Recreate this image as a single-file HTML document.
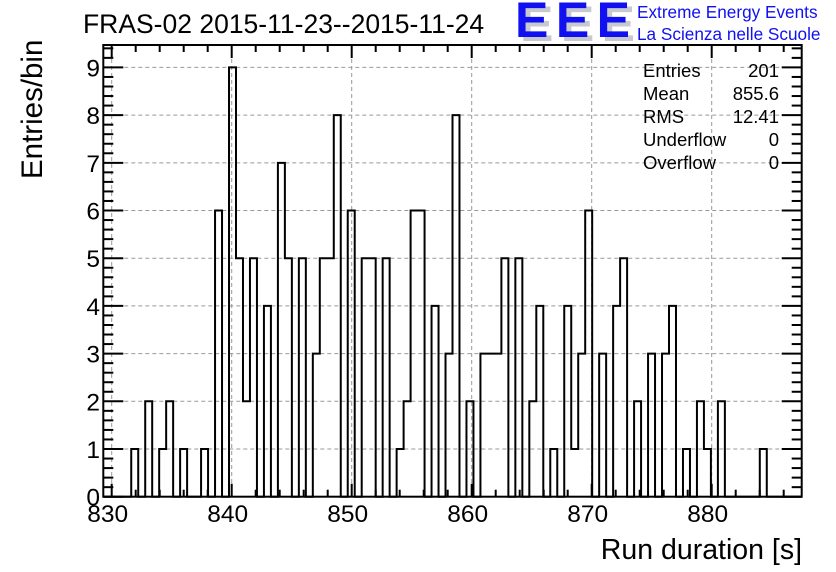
<!DOCTYPE html>
<html><head><meta charset="utf-8">
<style>
html,body{margin:0;padding:0;background:#fff;}
svg{display:block;font-family:"Liberation Sans",Arial,sans-serif;}
</style></head>
<body>
<svg id="chart" width="836" height="572" viewBox="0 0 836 572">
  <rect x="0" y="0" width="836" height="572" fill="#fff"/>
  <text x="83" y="33" font-size="26.5" fill="#000">FRAS-02 2015-11-23--2015-11-24</text>
  <g>
    <text x="520" y="41" font-size="50" font-weight="bold" fill="#c8c8d0" letter-spacing="-3" textLength="112">EEE</text>
    <text x="515" y="37" font-size="50" font-weight="bold" fill="#1010f0" letter-spacing="-3" textLength="112">EEE</text>
    <text x="637" y="18" font-size="17.2" fill="#1010f0">Extreme Energy Events</text>
    <text x="637" y="40" font-size="17.2" fill="#1010f0">La Scienza nelle Scuole</text>
  </g>
  <g id="grid"></g>
  <g id="ticks"></g>
  <path id="hist" fill="none" stroke="#000" stroke-width="2"/>
  <rect x="103.3" y="45" width="698.4" height="451.7" fill="none" stroke="#000" stroke-width="2"/>
  <g id="labels" font-size="24.5" fill="#000"></g>
  <text transform="translate(42,179) rotate(-90)" font-size="29.5" fill="#000">Entries/bin</text>
  <text x="802" y="559" font-size="28.5" text-anchor="end" fill="#000">Run duration [s]</text>
  <g font-size="18.5" fill="#000">
    <text x="643" y="77">Entries</text><text x="779" y="77" text-anchor="end">201</text>
    <text x="643" y="100">Mean</text><text x="779" y="100" text-anchor="end">855.6</text>
    <text x="643" y="123">RMS</text><text x="779" y="123" text-anchor="end">12.41</text>
    <text x="643" y="146">Underflow</text><text x="779" y="146" text-anchor="end">0</text>
    <text x="643" y="169">Overflow</text><text x="779" y="169" text-anchor="end">0</text>
  </g>
</svg>
<script>
const xMin = 829.3, xMax = 887.5, nBins = 100;
const binIndex = [4,6,8,9,11,14,16,18,19,20,21,23,25,26,28,30,31,32,33,35,37,38,40,42,43,44,45,47,49,50,52,54,55,56,57,59,61,62,64,66,67,68,69,71,73,74,76,78,80,81,83,85,86,88,94];
const binCount = [1,2,1,2,1,1,6,9,5,2,5,4,7,5,5,3,5,5,8,6,5,5,5,1,2,6,6,4,3,8,2,3,3,3,5,5,2,4,1,4,1,3,6,3,4,5,2,3,3,4,1,2,1,2,1];
const xTicks = [830,840,850,860,870,880];
const yTicks = [0,1,2,3,4,5,6,7,8,9];
const yMax = 9.47;

const L=103.3,R=801.7,T=45,B=496.7;
const sx=v=>L+(v-xMin)/(xMax-xMin)*(R-L);
const sy=v=>B-v/yMax*(B-T);
const NS="http://www.w3.org/2000/svg";
function mk(tag,parent){const e=document.createElementNS(NS,tag);parent.appendChild(e);return e;}

const counts=new Array(nBins).fill(0);
binIndex.forEach((b,i)=>{counts[b]=binCount[i];});
const bw=(xMax-xMin)/nBins;
let d="M"+sx(xMin)+","+sy(0);
for(let i=0;i<nBins;i++){
  const x0=sx(xMin+i*bw),x1=sx(xMin+(i+1)*bw),y=sy(counts[i]);
  d+=" L"+x0+","+y+" L"+x1+","+y;
}
d+=" L"+sx(xMax)+","+sy(0);
document.getElementById('hist').setAttribute('d',d);

const grid=document.getElementById('grid'),ticks=document.getElementById('ticks'),labels=document.getElementById('labels');
function line(p,x1,y1,x2,y2,dash,name){
  const l=mk('line',p);
  
  
  l.setAttribute('x1',x1);l.setAttribute('y1',y1);l.setAttribute('x2',x2);l.setAttribute('y2',y2);
  l.setAttribute('stroke',dash?'#999':'#000');l.setAttribute('stroke-width',dash?1:2);
  if(dash)l.setAttribute('stroke-dasharray','4,3');
}
xTicks.forEach(v=>{
  const x=sx(v);
  line(grid,x,T,x,B,true,'x-grid-line');
  const t=mk('text',labels);
  
  
  t.setAttribute('x',x-4);t.setAttribute('y',522);t.setAttribute('text-anchor','middle');t.textContent=v;
});
yTicks.forEach(v=>{
  const y=sy(v);
  if(v>0) line(grid,L,y,R,y,true,'y-grid-line');
  const t=mk('text',labels);
  
  
  t.setAttribute('x',100);t.setAttribute('y',y+9);t.setAttribute('text-anchor','end');t.textContent=v;
});
for(let v=830;v<=886;v+=2){
  const x=sx(v),maj=v%10===0,len=maj?13:7;
  line(ticks,x,B,x,B-len,false,'x-tick');
  line(ticks,x,T,x,T+len,false,'x-tick');
}
for(let k=0;k<=47;k++){
  const v=k*0.2,y=sy(v);if(y<T)break;
  const maj=k%5===0,len=maj?20:10;
  line(ticks,L,y,L+len,y,false,'y-tick');
  line(ticks,R,y,R-len,y,false,'y-tick');
}
</script>
</body></html>
